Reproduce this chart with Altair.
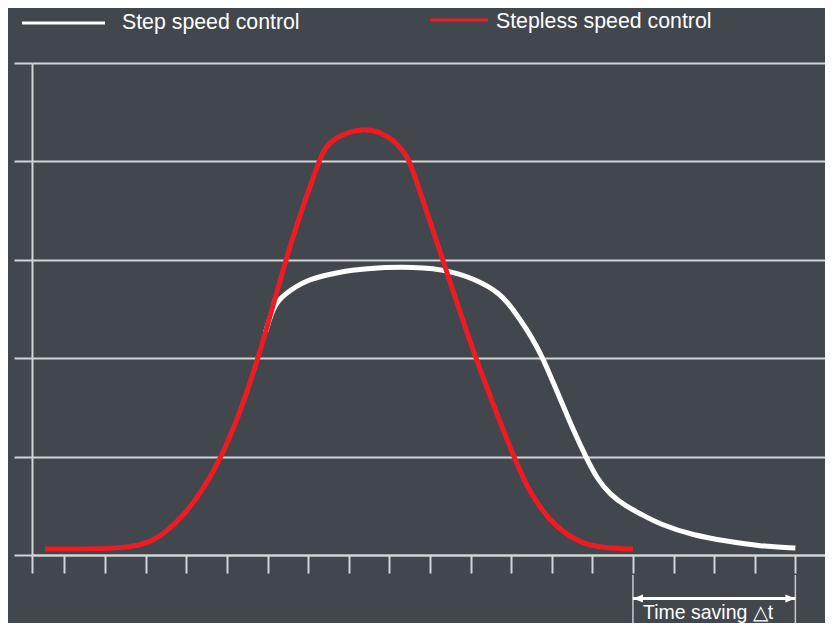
import altair as alt
import pandas as pd

# ---- data ----
series_labels = ["Step speed control", "Stepless speed control"]
annotation_label = "Time saving \u25b3t"

red_t = [0.32, 2.41, 3.07, 3.72, 4.21, 4.67, 5.12, 5.57, 5.9, 6.25, 6.65, 6.9,
         7.04, 7.15, 7.3, 7.59, 8.15, 8.65, 8.98, 9.26, 9.38,
         10.12, 10.91, 11.86, 12.19, 12.59, 13.09, 13.66, 14.16, 14.8]
red_v = [0.06, 0.06, 0.15, 0.39, 0.66, 1.00, 1.44, 2.00, 2.48, 3.00, 3.52, 3.80,
         3.97, 4.08, 4.18, 4.27, 4.34, 4.29, 4.19, 4.04, 3.91,
         3.00, 2.00, 1.00, 0.69, 0.43, 0.22, 0.10, 0.07, 0.06]

white_t = [5.75, 5.97, 6.36, 6.77, 7.59, 8.24, 9.06, 10.13, 10.95, 11.53, 11.86, 12.19,
           12.43, 12.59, 12.84, 13.09, 13.33, 13.66, 13.91, 14.24, 14.65, 14.98,
           15.47, 16.29, 17.11, 17.93, 18.8]
white_v = [2.26, 2.57, 2.69, 2.80, 2.88, 2.91, 2.93, 2.91, 2.80, 2.66, 2.49, 2.29,
           2.12, 1.99, 1.75, 1.51, 1.27, 0.98, 0.78, 0.61, 0.49, 0.42,
           0.31, 0.20, 0.14, 0.09, 0.07]

x_ticks = [0, 0.8, 1.8, 2.8, 3.8, 4.8, 5.8, 6.8, 7.8, 8.8, 9.8, 10.8, 11.8,
           12.8, 13.8, 14.8, 15.8, 16.8, 17.8, 18.8]
y_ticks = [0, 1, 2, 3, 4, 5]

# ---- styles ----
BG = "#41474d"
RED = "#ed1c24"
GRID = "#d2d4d6"
FONT = "Liberation Sans"

red_df = pd.DataFrame({"t": red_t, "v": red_v})
white_df = pd.DataFrame({"t": white_t, "v": white_v})
one = pd.DataFrame({"k": [0]})
span_df = pd.DataFrame({"t0": [red_t[-1]], "t1": [white_t[-1]]})

x_enc = alt.X("t:Q",
              scale=alt.Scale(domain=[0, 19.53], nice=False, zero=False),
              axis=alt.Axis(values=x_ticks, labels=False, title=None, grid=False,
                            tickSize=18, tickWidth=2, tickColor=GRID,
                            domainWidth=2, domainColor=GRID))
y_enc = alt.Y("v:Q",
              scale=alt.Scale(domain=[0, 5], nice=False),
              axis=alt.Axis(values=y_ticks, labels=False, title=None, grid=True,
                            gridColor=GRID, gridWidth=2, gridOpacity=1,
                            tickSize=18, tickWidth=2, tickColor=GRID,
                            domainWidth=2, domainColor=GRID))

white_line = alt.Chart(white_df).mark_line(
    color="white", strokeWidth=5, interpolate="basis").encode(x=x_enc, y=y_enc)
red_line = alt.Chart(red_df).mark_line(
    color=RED, strokeWidth=5, interpolate="basis").encode(x="t:Q", y="v:Q")

# legend
leg_white = alt.Chart(one).mark_rule(color="white", strokeWidth=3).encode(
    x=alt.value(-10), x2=alt.value(73), y=alt.value(-40))
leg_red = alt.Chart(one).mark_rule(color=RED, strokeWidth=3).encode(
    x=alt.value(398), x2=alt.value(456), y=alt.value(-43))
leg_text1 = alt.Chart(one).mark_text(
    align="left", baseline="alphabetic", font=FONT, fontSize=21.3, color="white"
).encode(x=alt.value(90), y=alt.value(-34), text=alt.value(series_labels[0]))
leg_text2 = alt.Chart(one).mark_text(
    align="left", baseline="alphabetic", font=FONT, fontSize=21.3, color="white"
).encode(x=alt.value(464), y=alt.value(-35.5), text=alt.value(series_labels[1]))

# time-saving annotation
vlines = alt.Chart(pd.DataFrame({"t": [red_t[-1], white_t[-1]]})).mark_rule(
    color="#c8cacc", strokeWidth=1.5).encode(
    x="t:Q", y=alt.value(512), y2=alt.value(560))
shaft = alt.Chart(span_df).mark_rule(color="white", strokeWidth=3).encode(
    x="t0:Q", x2="t1:Q", y=alt.value(535.5))
head_l = alt.Chart(span_df).mark_point(
    shape="M 0 0 L 2 -0.8 L 2 0.8 Z", size=100, filled=True, opacity=1,
    color="white", strokeWidth=0).encode(x="t0:Q", y=alt.value(535.5))
head_r = alt.Chart(span_df).mark_point(
    shape="M 0 0 L -2 -0.8 L -2 0.8 Z", size=100, filled=True, opacity=1,
    color="white", strokeWidth=0).encode(x="t1:Q", y=alt.value(535.5))
ann_text = alt.Chart(span_df).mark_text(
    align="left", baseline="alphabetic", font=FONT, fontSize=19.5, color="white", dx=10
).encode(x="t0:Q", y=alt.value(556), text=alt.value(annotation_label))

chart = alt.layer(
    white_line, red_line, leg_white, leg_red, leg_text1, leg_text2,
    vlines, shaft, head_l, head_r, ann_text
).properties(
    width=793, height=492,
    autosize=alt.AutoSizeParams(type="none"),
    padding={"left": 24, "top": 55, "right": 0, "bottom": 68},
    background=BG,
).configure_view(stroke=None)

chart.save("out.html", embed_options={"renderer": "svg", "actions": False})
